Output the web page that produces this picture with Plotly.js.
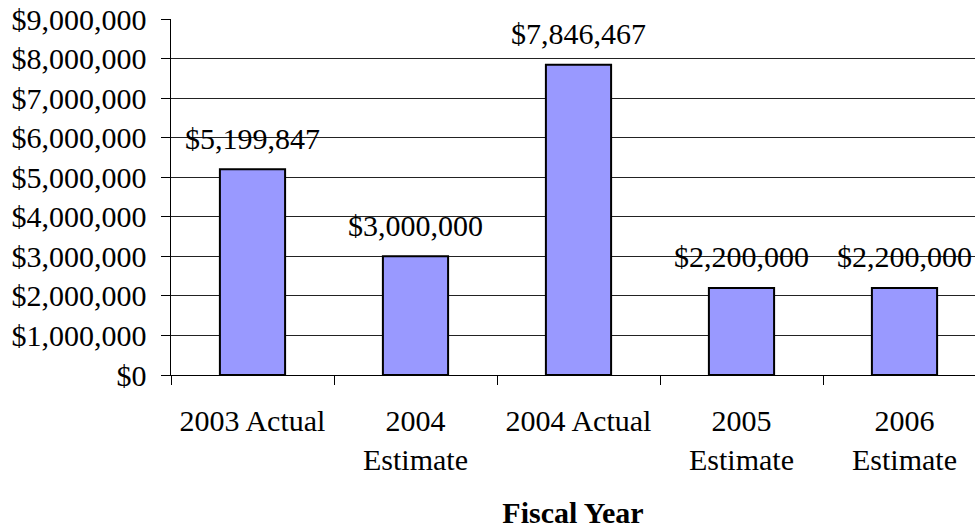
<!DOCTYPE html>
<html>
<head>
<meta charset="utf-8">
<script src="https://cdn.plot.ly/plotly-3.0.1.min.js"></script>
<style>html,body{margin:0;padding:0;background:#fff;}#chart{width:975px;height:529px;}</style>
</head>
<body>
<div id="chart"></div>
<script>
var categories = ["2003 Actual", "2004<br>Estimate", "2004 Actual", "2005<br>Estimate", "2006<br>Estimate"];
var values = [5199847, 3000000, 7846467, 2200000, 2200000];
var valueLabels = ["$5,199,847", "$3,000,000", "$7,846,467", "$2,200,000", "$2,200,000"];
var yTickValues = [0, 1000000, 2000000, 3000000, 4000000, 5000000, 6000000, 7000000, 8000000, 9000000];
var yTickLabels = ["$0", "$1,000,000", "$2,000,000", "$3,000,000", "$4,000,000", "$5,000,000", "$6,000,000", "$7,000,000", "$8,000,000", "$9,000,000"];

var FONT = "Liberation Serif, Times New Roman, serif";

var trace = {
  type: "bar",
  x: categories,
  y: values,
  width: 0.4,
  marker: {color: "#9999FF", line: {color: "#000000", width: 2}},
  hoverinfo: "none"
};

var annotations = categories.map(function (c, i) {
  return {
    x: c, y: values[i], xref: "x", yref: "y",
    text: valueLabels[i], showarrow: false,
    yanchor: "middle", yshift: 31,
    font: {family: FONT, size: 30, color: "#000"}
  };
});

var layout = {
  width: 975, height: 529,
  margin: {l: 171, r: 0, t: 19, b: 154},
  paper_bgcolor: "#fff", plot_bgcolor: "#fff",
  showlegend: false,
  font: {family: FONT, size: 30, color: "#000"},
  xaxis: {
    type: "category",
    range: [-0.5, 4.4325],
    tickson: "boundaries",
    ticks: "outside", ticklen: 9, tickcolor: "#000", tickwidth: 1,
    showgrid: false,
    showline: true, linecolor: "#000", linewidth: 1,
    ticklabelstandoff: 19,
    tickfont: {family: FONT, size: 30, color: "#000"},
    title: {text: "Fiscal Year", standoff: 26, font: {family: FONT, size: 30, color: "#000", weight: "bold"}}
  },
  yaxis: {
    range: [0, 9000000],
    tickvals: yTickValues,
    ticktext: yTickLabels,
    ticks: "outside", ticklen: 9, tickcolor: "#000", tickwidth: 1,
    showgrid: true, gridcolor: "#222", gridwidth: 1,
    showline: true, linecolor: "#000", linewidth: 1.5,
    zeroline: false,
    ticklabelstandoff: 8,
    tickfont: {family: FONT, size: 30, color: "#000"}
  },
  annotations: annotations
};

Plotly.newPlot("chart", [trace], layout, {displayModeBar: false, staticPlot: true});
</script>
</body>
</html>
